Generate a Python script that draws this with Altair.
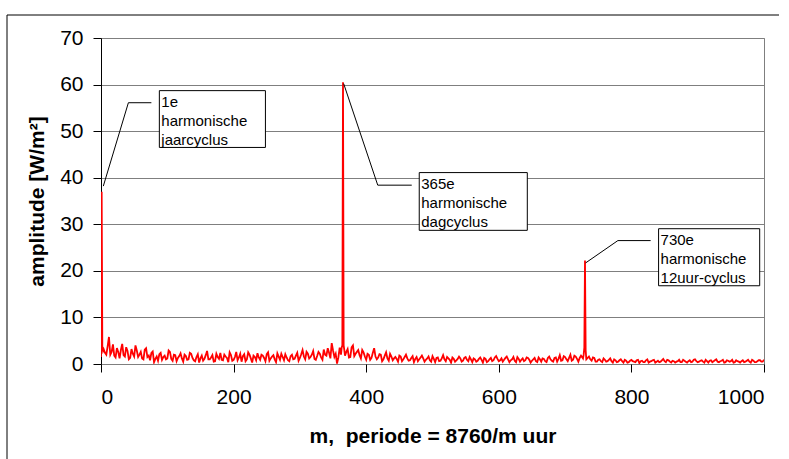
import altair as alt
import pandas as pd

# Noise floor of the amplitude spectrum, read every 4 harmonics: m = 4, 8, ..., 1000
noise_amp = [
    3.2, 2.0, 5.8, 2.6, 1.8, 3.4, 1.2, 4.3, 1.6, 2.8,
    1.3, 2.2, 4.0, 1.5, 2.6, 1.0, 3.4, 1.8, 2.4, 0.4,
    1.6, 2.1, 0.9, 1.8, 1.2, 2.6, 0.7, 1.9, 1.3, 2.3,
    0.5, 1.7, 1.0, 2.2, 0.8, 1.5, 0.3, 1.8, 1.1, 2.8,
    1.0, 1.9, 0.6, 1.5, 2.4, 0.8, 1.6, 0.4, 1.9, 0.9,
    2.6, 1.4, 0.5, 2.1, 1.0, 2.0, 0.3, 1.5, 2.3, 0.9,
    1.8, 0.6, 2.5, 1.2, 1.9, 0.4, 1.6, 2.2, 0.8, 1.4,
    0.6, 2.0, 1.1, 2.4, 1.3, 3.0, 1.0, 2.2, 1.5, 2.8,
    0.9, 2.6, 1.4, 3.1, 1.8, 2.4, 4.5, 1.5, 0.1, 3.5,
    4.0, 1.8, 3.2, 1.5, 4.0, 2.2, 3.0, 1.2, 2.5, 0.9,
    2.0, 1.3, 3.4, 1.0, 2.1, 0.6, 1.8, 1.2, 2.2, 0.8,
    1.5, 0.5, 1.6, 1.0, 2.0, 0.7, 1.3, 0.4, 1.5, 1.0,
    1.8, 0.5, 1.2, 0.8, 1.7, 0.4, 1.4, 0.7, 1.9, 0.6,
    1.2, 0.3, 1.1, 0.8, 1.6, 0.5, 1.3, 0.9, 1.5, 0.4,
    1.0, 0.7, 1.4, 0.3, 1.1, 0.6, 1.3, 0.8, 1.7, 0.6,
    1.2, 0.9, 1.6, 0.4, 1.0, 0.7, 1.5, 0.5, 1.2, 0.8,
    1.3, 0.3, 1.0, 0.6, 1.4, 0.5, 1.1, 0.4, 1.6, 0.7,
    1.3, 0.5, 1.9, 0.8, 1.5, 0.6, 2.0, 0.9, 1.6, 0.5,
    1.8, 2.0, 1.0, 1.6, 0.7, 1.3, 0.5, 1.0, 0.4, 0.9,
    0.6, 1.2, 0.3, 0.8, 0.5, 1.0, 0.3, 0.7, 0.4, 0.9,
    0.5, 0.8, 0.2, 0.7, 0.4, 1.0, 0.5, 0.8, 0.3, 0.7,
    0.5, 1.1, 0.4, 0.8, 0.3, 0.6, 0.5, 0.9, 0.4, 0.7,
    0.3, 0.8, 0.5, 1.0, 0.4, 0.7, 0.5, 0.9, 0.3, 0.8,
    0.6, 1.0, 0.4, 0.7, 0.3, 0.8, 0.5, 0.9, 0.4, 0.6,
    0.3, 0.8, 0.5, 0.9, 0.3, 0.7, 0.4, 0.8, 0.5, 0.9,
]
noise_m = list(range(4, 1001, 4))

# Intermediate harmonics: m = 6, 10, ..., 998
noise_mid_amp = [
    2.4, 3.8, 2.0, 4.2, 1.4, 2.6, 3.0, 1.9, 3.6, 1.0,
    3.2, 1.6, 2.9, 2.0, 1.2, 3.1, 1.5, 0.8, 2.7, 1.1,
    0.7, 2.4, 1.5, 1.0, 2.9, 1.1, 2.0, 0.6, 1.7, 1.2,
    2.0, 0.9, 2.4, 1.3, 0.6, 2.1, 1.2, 0.7, 1.9, 1.0,
    1.4, 0.5, 2.2, 1.1, 0.9, 2.0, 1.3, 2.5, 0.7, 1.5,
    0.8, 2.2, 1.7, 0.6, 2.5, 1.2, 1.8, 0.8, 1.4, 2.0,
    1.3, 2.1, 0.7, 1.6, 1.0, 2.3, 0.9, 1.5, 2.1, 0.8,
    1.7, 1.0, 1.8, 0.7, 2.1, 1.6, 2.6, 1.2, 2.0, 1.1,
    1.7, 2.2, 0.9, 2.0, 3.4, 1.2, 2.9, 2.2, 1.4, 2.0,
    3.0, 2.6, 1.4, 3.6, 1.7, 2.6, 1.9, 3.0, 1.6, 2.2,
    0.9, 2.4, 1.6, 1.4, 2.0, 1.0, 2.5, 0.7, 1.6, 1.2,
    1.1, 1.8, 0.6, 1.5, 1.2, 0.8, 1.7, 1.1, 0.6, 1.4,
    1.2, 0.9, 1.6, 0.5, 1.1, 1.3, 0.6, 1.2, 1.0, 1.5,
    0.9, 1.4, 0.5, 1.1, 1.2, 0.7, 1.5, 0.6, 1.0, 1.2,
    0.5, 1.1, 0.9, 1.3, 0.4, 1.0, 0.6, 1.4, 1.1, 0.8,
    0.5, 1.3, 1.0, 0.8, 1.5, 0.4, 1.1, 0.9, 0.6, 1.4,
    0.9, 0.7, 1.3, 0.4, 1.0, 1.2, 0.6, 1.3, 1.0, 0.5,
    1.4, 1.1, 0.7, 1.7, 1.0, 1.3, 0.7, 1.8, 1.1, 1.3,
    1.4, 3.0, 1.3, 1.0, 1.4, 0.5, 0.9, 0.6, 1.2, 0.5,
    0.9, 0.6, 1.0, 0.4, 0.8, 0.6, 0.9, 0.3, 0.7, 0.6,
    0.4, 0.9, 0.6, 0.4, 0.8, 0.3, 0.6, 0.9, 0.5, 0.4,
    0.8, 0.6, 0.9, 0.5, 0.7, 0.3, 0.6, 0.4, 0.9, 0.5,
    0.6, 0.4, 0.9, 0.6, 0.5, 0.8, 0.3, 0.6, 0.7, 0.4,
    0.8, 0.5, 0.6, 0.9, 0.4, 0.7, 0.6, 0.3, 0.8, 0.5,
    0.6, 0.4, 0.7, 0.5, 0.9, 0.4, 0.6, 0.8, 0.5,
]
noise_mid_m = list(range(6, 999, 4))

# Harmonics around the three peaks, read one by one
peak_m = [0, 1, 2, 3, 363, 364, 365, 366, 367, 727, 728, 729, 730, 731, 732]
peak_amp = [1.5, 37.0, 3.5, 2.8, 3.5, 4.0, 60.5, 4.0, 3.0, 1.2, 2.0, 3.5, 22.2, 3.0, 1.0]

# Annotations
ann_text = ["1e\nharmonische\njaarcyclus",
            "365e\nharmonische\ndagcyclus",
            "730e\nharmonische\n12uur-cyclus"]
ann_x1 = [88, 480, 841]
ann_x2 = [248, 643, 993.5]
ann_y1 = [46.5, 28.7, 16.8]
ann_y2 = [58.7, 41.1, 29.05]
leader_id = [0, 0, 0, 1, 1, 1, 2, 2, 2]
leader_order = [0, 1, 2, 0, 1, 2, 0, 1, 2]
leader_x = [3.5, 41.3, 76.0, 366.0, 417.4, 468.7, 730.9, 779.6, 829.0]
leader_y = [38.2, 56.1, 56.1, 60.2, 38.4, 38.4, 21.7, 26.5, 26.5]

peak_set = set(peak_m)
rows = [(m, a) for m, a in zip(noise_m, noise_amp) if m not in peak_set]
rows += [(m, a) for m, a in zip(noise_mid_m, noise_mid_amp) if m not in peak_set]
rows += list(zip(peak_m, peak_amp))
rows.sort()
spec = pd.DataFrame(rows, columns=["m", "amp"])

FONT = "Liberation Sans"
xscale = alt.Scale(domain=[0, 1000], nice=False, zero=False)
yscale = alt.Scale(domain=[0, 70], nice=False)

line = alt.Chart(spec).mark_line(color="#ff0000", strokeWidth=1.8, clip=True).encode(
    x=alt.X("m:Q", scale=xscale,
            title="m,\u00a0 periode = 8760/m uur",
            axis=alt.Axis(values=[0, 200, 400, 600, 800, 1000], format="d", grid=False,
                          domain=False, tickColor="black", tickSize=8, labelFontSize=21,
                          labelFont=FONT, labelColor="black", labelPadding=14,
                          titleFont=FONT, titleFontSize=21, titleFontWeight="bold",
                          titleColor="black", titlePadding=18)),
    y=alt.Y("amp:Q", scale=yscale,
            title="amplitude [W/m²]",
            axis=alt.Axis(values=list(range(0, 71, 10)), grid=True, gridColor="#7f7f7f",
                          gridWidth=1, domainColor="black", tickColor="black", tickSize=8,
                          labelFontSize=21, labelFont=FONT, labelColor="black",
                          labelPadding=10, titleFont=FONT, titleFontSize=21,
                          titleFontWeight="bold", titleColor="black", titlePadding=12)),
)

ann = pd.DataFrame({"text": ann_text, "x1": ann_x1, "x2": ann_x2, "y1": ann_y1, "y2": ann_y2})
lead = pd.DataFrame({"id": leader_id, "o": leader_order, "x": leader_x, "y": leader_y})

leaders = alt.Chart(lead).mark_line(color="black", strokeWidth=1).encode(
    x=alt.X("x:Q", scale=xscale), y=alt.Y("y:Q", scale=yscale),
    detail="id:N", order="o:Q")

boxes = alt.Chart(ann).mark_rect(fill="white", stroke="black", strokeWidth=1).encode(
    x=alt.X("x1:Q", scale=xscale), x2="x2:Q",
    y=alt.Y("y1:Q", scale=yscale), y2="y2:Q")

texts = alt.Chart(ann).mark_text(align="left", baseline="top", dx=2, dy=4, fontSize=15,
                                 lineHeight=19, font=FONT, color="black",
                                 lineBreak="\n").encode(
    x=alt.X("x1:Q", scale=xscale), y=alt.Y("y2:Q", scale=yscale), text="text:N")

one = pd.DataFrame({"a": [0]})
frame_top = alt.Chart(one).mark_rule(color="black", strokeWidth=1).encode(
    x=alt.value(-94), x2=alt.value(678), y=alt.value(-23))
frame_left = alt.Chart(one).mark_rule(color="black", strokeWidth=1).encode(
    x=alt.value(-94), y=alt.value(-23), y2=alt.value(440))

chart = alt.layer(frame_top, frame_left, line, leaders, boxes, texts).properties(
    width=663, height=326,
    autosize=alt.AutoSizeParams(type="none"),
    padding={"left": 101, "top": 38, "right": 25, "bottom": 95},
    background="white",
).configure_view(stroke="#7f7f7f", strokeWidth=1)

chart.save("out.html", embed_options={"renderer": "svg", "actions": False})
